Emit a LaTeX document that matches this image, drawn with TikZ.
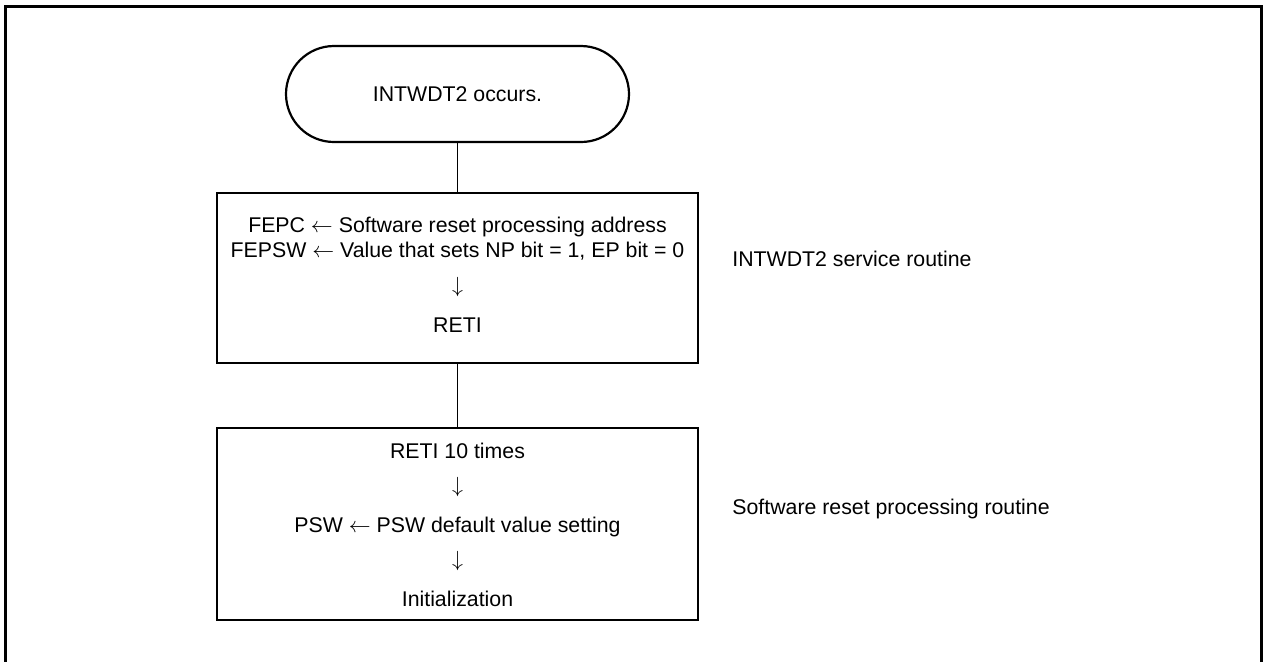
\documentclass[tikz,border=0pt]{standalone}
\usepackage{fontspec}
\setmainfont{Liberation Sans}
\begin{document}
\begin{tikzpicture}[x=0.5pt,y=-0.5pt,
  every node/.style={font=\fontsize{10.65pt}{12.5pt}\selectfont, inner sep=0pt},
  term/.style={draw, line width=1.1pt, rounded corners=24pt, minimum width=171.5pt, minimum height=48pt},
  procbox/.style={draw, line width=1.35pt, minimum width=240.5pt},
  txt/.style={anchor=base},
  side/.style={anchor=base west},
  link/.style={draw, line width=0.5pt},
  frame/.style={line width=1.5pt}]
\useasboundingbox (0,0) rectangle (1265,661);
\draw[frame] (5.5,6) rectangle (1261.5,700);
\node[term] (start) at (457.5,94) {INTWDT2 occurs.};
\node[procbox, minimum height=85pt] (b1) at (457.5,278) {};
\node[txt] (b1l1) at (457.5,232.5) {FEPC $\leftarrow$ Software reset processing address};
\node[txt] (b1l2) at (457.5,257.5) {FEPSW $\leftarrow$ Value that sets NP bit = 1, EP bit = 0};
\node[txt] (b1l3) at (457.5,292.3) {$\downarrow$};
\node[txt] (b1l4) at (457.5,332) {RETI};
\node[procbox, minimum height=96pt] (b2) at (457.5,524) {};
\node[txt] (b2l1) at (457.5,458) {RETI 10 times};
\node[txt] (b2l2) at (457.5,492.7) {$\downarrow$};
\node[txt] (b2l3) at (457.5,532) {PSW $\leftarrow$ PSW default value setting};
\node[txt] (b2l4) at (457.5,566.7) {$\downarrow$};
\node[txt] (b2l5) at (457.5,606) {Initialization};
\node[side] (lab1) at (732,266) {INTWDT2 service routine};
\node[side] (lab2) at (732,514) {Software reset processing routine};
\draw[link] (start) -- (b1);
\draw[link] (b1) -- (b2);
\end{tikzpicture}
\end{document}
